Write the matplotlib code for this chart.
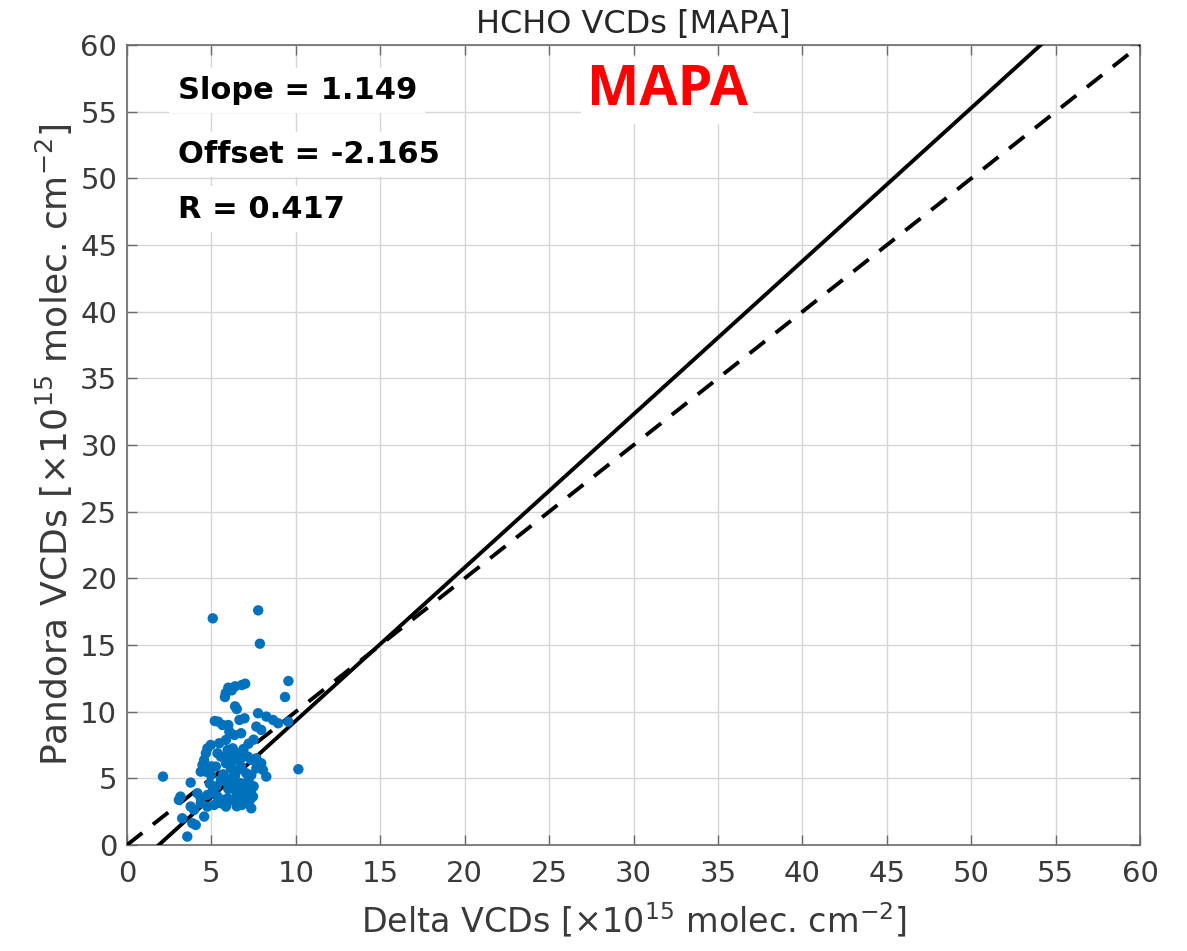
import matplotlib
matplotlib.use("Agg")
import matplotlib.pyplot as plt
import numpy as np

# ---- data ----
delta_vcd = [
    5.08, 7.77, 7.87, 9.56, 9.36, 6.00, 6.40, 6.80, 7.00, 5.80, 5.85, 6.40, 6.50,
    5.40, 5.66, 6.66, 6.96, 7.76, 8.25, 8.65, 8.95, 9.55, 7.66, 7.95, 6.06, 6.36,
    6.76, 5.86, 5.46, 4.96, 4.76, 4.67, 5.36, 5.56, 5.96, 6.26, 6.56, 6.36, 6.76,
    7.16, 7.36, 7.66, 7.95, 4.57, 4.47, 4.37, 4.67, 4.96, 5.26, 5.86, 6.16, 6.56,
    6.76, 7.06, 7.36, 7.66, 8.05, 8.25, 2.13, 10.15, 3.77, 5.56, 5.96, 6.36, 6.76,
    6.96, 7.16, 7.36, 6.76, 6.46, 3.17, 3.07, 4.17, 4.37, 4.76, 5.06, 5.36, 5.66,
    5.96, 6.26, 6.56, 6.96, 7.16, 7.46, 7.36, 3.77, 3.97, 4.37, 4.76, 5.16, 5.56,
    5.86, 3.27, 3.87, 4.07, 4.57, 3.57, 6.00, 6.00, 6.20, 6.60, 7.00, 7.30, 6.80,
    7.20, 7.50, 6.40, 6.10, 5.70, 5.00, 5.30, 4.90, 6.90, 7.20, 7.50, 6.10, 5.90,
    6.50, 5.20, 6.20,
]
pandora_vcd = [
    17.0, 17.6, 15.1, 12.3, 11.1, 11.8, 11.9, 12.0, 12.1, 11.1, 11.4, 10.4, 10.2,
    9.25, 9.00, 9.38, 9.50, 9.88, 9.63, 9.38, 9.13, 9.25, 8.88, 8.63, 8.50, 8.25,
    8.38, 7.88, 7.63, 7.50, 7.25, 6.88, 6.88, 6.63, 7.13, 7.25, 6.88, 6.38, 6.50,
    6.63, 6.38, 6.50, 6.13, 6.38, 6.00, 5.50, 5.50, 5.25, 5.88, 6.13, 5.75, 5.63,
    5.88, 5.38, 5.25, 5.75, 5.63, 5.13, 5.13, 5.68, 4.68, 4.88, 4.63, 4.75, 4.63,
    4.25, 4.50, 4.13, 4.13, 4.00, 3.63, 3.38, 3.88, 3.50, 3.75, 4.00, 3.63, 3.38,
    3.50, 3.38, 3.63, 3.50, 3.25, 3.63, 2.75, 2.88, 2.63, 3.13, 2.88, 3.00, 3.13,
    2.88, 2.00, 1.63, 1.50, 2.13, 0.63, 9.00, 4.20, 4.40, 3.90, 3.90, 3.40, 3.00,
    4.80, 4.40, 5.20, 6.60, 5.30, 5.90, 4.40, 4.60, 7.20, 7.60, 7.90, 5.00, 3.10,
    2.90, 9.30, 11.6,
]
slope = 1.149
offset = -2.165
r_value = 0.417

x_ticks = list(range(0, 61, 5))
y_ticks = list(range(0, 61, 5))

title_text = "HCHO VCDs [MAPA]"
x_label = r"Delta VCDs [$\times$10$^{15}$ molec. cm$^{-2}$]"
y_label = r"Pandora VCDs [$\times$10$^{15}$ molec. cm$^{-2}$]"
site_label = "MAPA"

# ---- figure ----
plt.rcParams['font.family'] = ['DejaVu Sans']
plt.rcParams['mathtext.fontset'] = 'dejavusans'

fig = plt.figure(figsize=(11.87, 9.51), dpi=100)
ax = fig.add_axes([0.107, 0.1115, 0.8534, 0.841])

ax.set_xlim(0, 60)
ax.set_ylim(0, 60)
ax.set_xticks(x_ticks)
ax.set_yticks(y_ticks)

ax.grid(True, color='#d6d6d6', linewidth=1.0, zorder=0)
ax.set_axisbelow(True)

xx = np.array([0, 60])
ax.plot(xx, slope * xx + offset, color='black', linewidth=2.8, zorder=3)
ax.plot(xx, xx, color='black', linewidth=2.8, linestyle=(0, (5, 3.5)), zorder=3)

ax.scatter(delta_vcd, pandora_vcd, s=56, color='#0072BD', edgecolors='none', zorder=4)

text_gray = '#3a3a3a'
ax.tick_params(direction='in', length=7, width=1, colors='#6a6a6a',
               labelcolor=text_gray, labelsize=21, top=True, right=True, pad=7)
ax.tick_params(axis='x', pad=11)
for sp in ax.spines.values():
    sp.set_color('#6a6a6a')
    sp.set_linewidth(1.2)

ax.set_title(title_text, fontsize=23, color='#262626', pad=9)
ax.set_xlabel(x_label, fontsize=24, color=text_gray, labelpad=9)
ax.set_ylabel(y_label, fontsize=26, color=text_gray, labelpad=4)

box = dict(facecolor='white', edgecolor='none', pad=6)
stat_font = dict(fontsize=22, fontweight='bold',
                 va='center', ha='left', bbox=box, zorder=5)
ax.text(3.0, 56.6, f"Slope = {slope:.3f}", **stat_font)
ax.text(3.0, 51.8, f"Offset = {offset:.3f}", **stat_font)
ax.text(3.0, 47.7, f"R = {r_value:.3f}", **stat_font)
ax.text(32.0, 56.6, site_label, fontsize=40, fontweight='bold', color='#ff0000',
        family=['Open Sans', 'DejaVu Sans'],
        va='center', ha='center', bbox=dict(facecolor='white', edgecolor='none', pad=4), zorder=5)

fig.savefig("out.png", dpi=100)
